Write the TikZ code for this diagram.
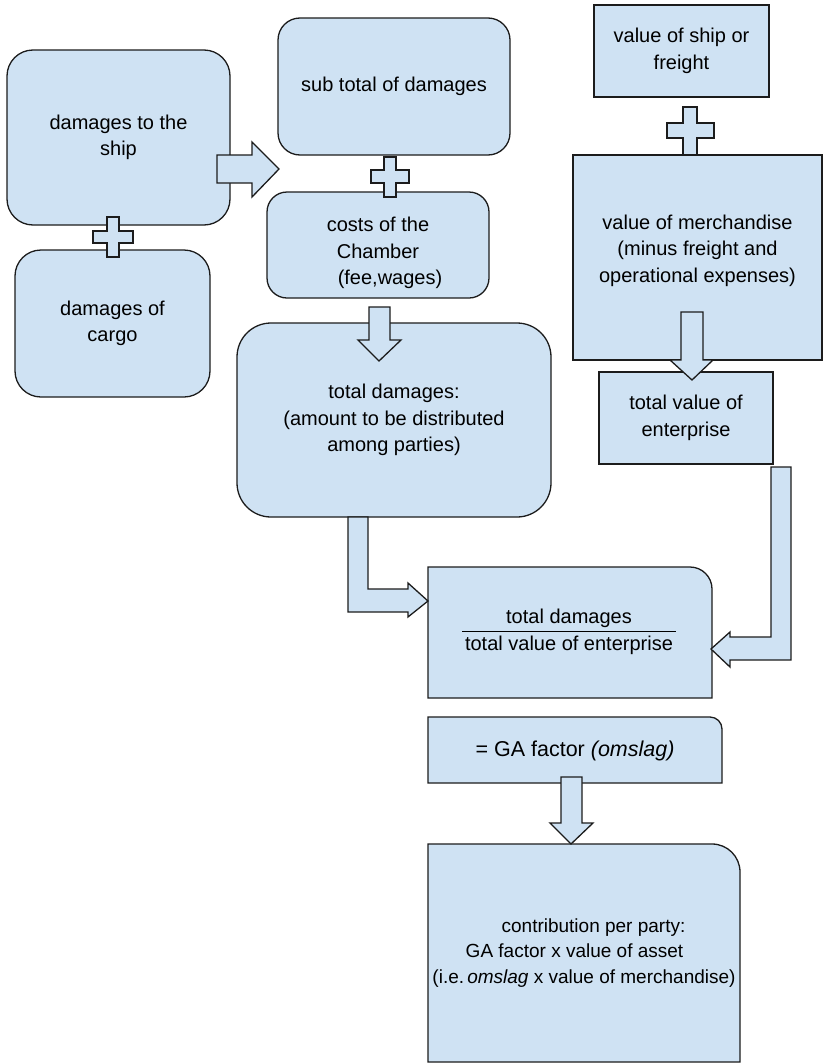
\documentclass[tikz,border=0pt]{standalone}
\usepackage{fontspec}
\setmainfont{Liberation Sans}
\definecolor{boxblue}{HTML}{CFE2F3}
\definecolor{edgegray}{HTML}{1C1C1C}
\tikzset{
  box/.style={draw=edgegray, fill=boxblue, line width=1.3pt, align=center, inner sep=1pt, font=\fontsize{20}{26.5}\selectfont},
  shapeline/.style={draw=edgegray, fill=boxblue, line width=1.3pt, line join=miter},
  boxtext/.style={align=center, inner sep=1pt, font=\fontsize{20}{26.5}\selectfont}
}
\begin{document}
\begin{tikzpicture}[x=1pt,y=1pt]
\useasboundingbox (0,0) rectangle (823,-1063);
% damages column
\node[box, rounded corners=26pt, minimum width=223pt, minimum height=175pt] (ship) at (118.5,-137.5) {damages to the\\ship};
\node[box, rounded corners=26pt, minimum width=195pt, minimum height=147pt] (cargo) at (112.5,-323.5) {damages of\\cargo};
\node[box, rounded corners=22pt, minimum width=232pt, minimum height=137pt] (subtotal) at (394,-86.5) {sub total of damages};
\node[box, rounded corners=20pt, minimum width=222pt, minimum height=106pt] (costs) at (378,-245) {\mbox{}\\[4pt]costs of the\\Chamber\\\hbox to 24pt{}(fee,wages)};
\node[box, rounded corners=34pt, minimum width=314pt, minimum height=194pt] (totaldamages) at (394,-420) {total damages:\\(amount to be distributed\\among parties)};
% value column
\node[box, minimum width=175pt, minimum height=92pt] (shipvalue) at (681.5,-51) {value of ship or\\freight};
\node[box, minimum width=249pt, minimum height=205pt] (cargovalue) at (697.5,-257.5) {value of merchandise\\(minus freight and\\operational expenses)\\[-8pt]\mbox{}};
\node[box, minimum width=174pt, minimum height=92pt] (totalvalue) at (686,-418) {total value of\\enterprise};
% boxes with one rounded corner
\draw[shapeline] (428,-698) -- (428,-567) -- (690,-567) arc[start angle=90, end angle=0, radius=22pt] -- (712,-698) -- cycle;
\node[inner sep=0pt, font=\fontsize{20}{26.5}\selectfont] (ratio) at (569,-631.5) {\setlength{\tabcolsep}{3pt}\setlength{\arrayrulewidth}{1pt}\begin{tabular}{c}total damages\\\hline total value of enterprise\end{tabular}};
\draw[shapeline] (428,-783) -- (428,-717) -- (710,-717) arc[start angle=90, end angle=0, radius=12pt] -- (722,-783) -- cycle;
\node[boxtext, font=\fontsize{21.5}{26}\selectfont] (gafactor) at (575,-751) {= GA factor \textit{(omslag)}};
\draw[shapeline] (428,-1062) -- (428,-844) -- (712,-844) arc[start angle=90, end angle=0, radius=28pt] -- (740,-1062) -- cycle;
\node[boxtext, font=\fontsize{19}{25.5}\selectfont] (share) at (584,-953) {\hbox to 19pt{}contribution per party:\\GA factor x value of asset\hbox to 19pt{}\\(i.e.\,\textit{omslag} x value of merchandise)};
% block arrows
\draw[shapeline] (217,-155) -- (252,-155) -- (252,-142) -- (279,-169) -- (252,-197) -- (252,-183) -- (217,-183) -- cycle;
\draw[shapeline] (369,-307) -- (390,-307) -- (390,-340) -- (401,-340) -- (379,-361) -- (358,-340) -- (369,-340) -- cycle;
\draw[shapeline] (681,-312) -- (703,-312) -- (703,-360) -- (713,-360) -- (692,-380) -- (670,-360) -- (681,-360) -- cycle;
\draw[shapeline] (348,-517) -- (368,-517) -- (368,-589) -- (408,-589) -- (408,-583) -- (428,-601) -- (408,-617) -- (408,-612) -- (348,-612) -- cycle;
\draw[shapeline] (771,-467) -- (791,-467) -- (791,-660) -- (730,-660) -- (730,-667) -- (711,-649) -- (730,-632) -- (730,-637) -- (771,-637) -- cycle;
\draw[shapeline] (561,-777) -- (582,-777) -- (582,-823) -- (593,-823) -- (571,-844) -- (550,-823) -- (561,-823) -- cycle;
% plus signs
\draw[shapeline] (107,-217) -- ++(12,0) -- ++(0,-14) -- ++(14,0) -- ++(0,-12) -- ++(-14,0) -- ++(0,-14) -- ++(-12,0) -- ++(0,14) -- ++(-14,0) -- ++(0,12) -- ++(14,0) -- cycle;
\draw[shapeline] (384,-157) -- ++(12,0) -- ++(0,-13) -- ++(13,0) -- ++(0,-13) -- ++(-13,0) -- ++(0,-14) -- ++(-12,0) -- ++(0,14) -- ++(-13,0) -- ++(0,13) -- ++(13,0) -- cycle;
\draw[shapeline] (683,-107) -- ++(14,0) -- ++(0,-16) -- ++(17,0) -- ++(0,-15) -- ++(-17,0) -- ++(0,-17) -- ++(-14,0) -- ++(0,17) -- ++(-16,0) -- ++(0,15) -- ++(16,0) -- cycle;
\end{tikzpicture}
\end{document}
